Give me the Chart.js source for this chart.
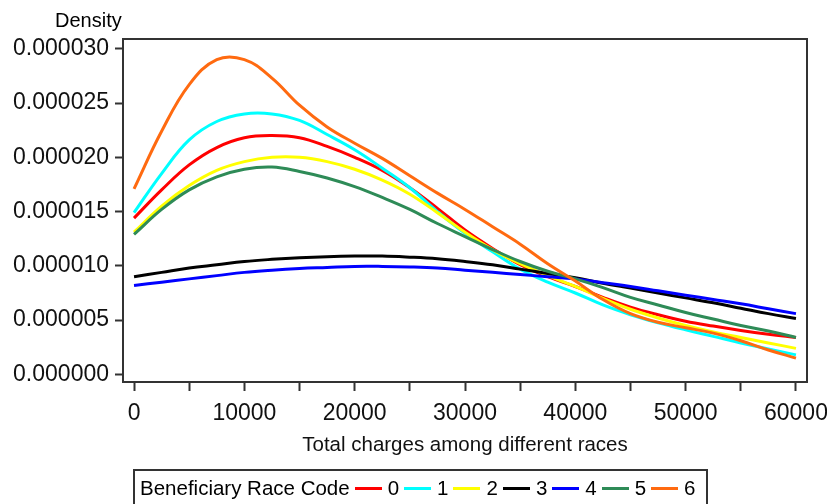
<!DOCTYPE html>
<html>
<head>
<meta charset="utf-8">
<script src="https://cdn.jsdelivr.net/npm/chart.js@4/dist/chart.umd.min.js"></script>
<style>
    body { margin: 0; background: #fff; }
    #wrap { position: relative; width: 827px; height: 504px; overflow: hidden;
            font-family: "Liberation Sans", Arial, sans-serif; color: #000; }
    #density { position: absolute; left: 55px; top: 10px; font-size: 20px; line-height: 20px; }
    #legend { position: absolute; left: 133px; top: 469px; width: 575px; height: 50px;
              border: 2px solid #333; box-sizing: border-box; padding: 5px 0 0 5px;
              font-size: 20.5px; line-height: 24px; white-space: nowrap; }
    #legend .swatch { display: inline-block; width: 27px; height: 3px; margin-left: 5px; vertical-align: 5px; }
    #legend .code { margin-left: 6px; }
</style>
</head>
<body>
<div id="wrap">
    <canvas id="density_chart" width="827" height="504"></canvas>
    <div id="density">Density</div>
    <div id="legend"></div>
</div>
<script>
// x positions (total charges) of the density estimates
const charges = [0, 2500, 5000, 7500, 10000, 12500, 15000, 17500, 20000, 22500, 25000, 27500,
    30000, 32500, 35000, 37500, 40000, 42500, 45000, 47500, 50000, 52500, 55000, 57500, 60000];

// density values, in units of 0.000001
const race0 = [14.4, 17.0, 19.3, 20.9, 21.8, 22.0, 21.8, 21.0, 20.0, 18.8, 17.2, 15.3,
    13.3, 11.6, 10.1, 9.0, 8.1, 7.1, 6.2, 5.5, 4.9, 4.45, 4.05, 3.7, 3.4];
const race1 = [14.9, 18.5, 21.6, 23.3, 24.0, 24.0, 23.4, 22.1, 20.7, 19.0, 17.2, 15.0,
    13.0, 11.3, 9.7, 8.5, 7.5, 6.4, 5.5, 4.75, 4.1, 3.5, 2.9, 2.35, 1.8];
const race2 = [13.1, 15.5, 17.4, 18.8, 19.6, 20.0, 20.0, 19.6, 18.9, 17.9, 16.6, 14.9,
    13.1, 11.5, 10.2, 9.1, 8.1, 7.0, 6.0, 5.2, 4.5, 3.9, 3.4, 2.9, 2.4];
const race3 = [9.0, 9.4, 9.8, 10.1, 10.4, 10.6, 10.75, 10.85, 10.9, 10.9, 10.8, 10.65,
    10.4, 10.1, 9.7, 9.3, 8.9, 8.4, 7.95, 7.5, 7.05, 6.6, 6.1, 5.6, 5.15];
const race4 = [8.2, 8.5, 8.8, 9.1, 9.4, 9.6, 9.75, 9.85, 9.95, 9.95, 9.9, 9.8,
    9.6, 9.4, 9.2, 9.0, 8.8, 8.45, 8.1, 7.7, 7.3, 6.9, 6.5, 6.05, 5.6];
const race5 = [12.9, 15.2, 17.0, 18.2, 18.9, 19.1, 18.7, 18.1, 17.3, 16.3, 15.2, 13.9,
    12.7, 11.5, 10.4, 9.5, 8.8, 8.0, 7.1, 6.4, 5.7, 5.1, 4.5, 4.0, 3.4];
const race6 = [17.1, 22.4, 26.7, 29.0, 29.0, 27.3, 24.8, 22.8, 21.3, 19.9, 18.3, 16.7,
    15.2, 13.6, 12.0, 10.2, 8.6, 6.9, 5.6, 4.8, 4.3, 3.8, 3.1, 2.25, 1.5];

const raceCodes = ['0', '1', '2', '3', '4', '5', '6'];
const raceValues = [race0, race1, race2, race3, race4, race5, race6];
const raceColors = ['#FF0000', '#00FFFF', '#FFFF00', '#000000', '#0000FF', '#2E8B57', '#FF6A10'];

// tick marks (labels only every 10000 on x)
const xTicks = [0, 5000, 10000, 15000, 20000, 25000, 30000, 35000, 40000, 45000, 50000, 55000, 60000];
const yTicks = [0, 5, 10, 15, 20, 25, 30];

// legend in a box under the chart
var legend = document.getElementById('legend');
legend.appendChild(document.createTextNode('Beneficiary Race Code'));
raceCodes.forEach(function (code, i) {
    var sw = document.createElement('span');
    sw.className = 'swatch';
    sw.style.background = raceColors[i];
    legend.appendChild(sw);
    var lb = document.createElement('span');
    lb.className = 'code';
    lb.textContent = code;
    legend.appendChild(lb);
});

// frame around the plot area
const frame = {
    id: 'frame',
    afterDatasetsDraw(chart) {
        const a = chart.chartArea, c = chart.ctx;
        c.save();
        c.strokeStyle = '#333';
        c.lineWidth = 2;
        c.strokeRect(a.left, a.top, a.right - a.left, a.bottom - a.top);
        c.restore();
    }
};

const tickFont = { family: '"Liberation Sans", Arial, sans-serif', size: 23 };

var ctx = document.getElementById('density_chart').getContext('2d');
new Chart(ctx, {
    type: 'line',
    data: {
        datasets: raceValues.map(function (vals, i) {
            return {
                label: raceCodes[i],
                data: vals.map(function (v, j) { return { x: charges[j], y: v }; }),
                borderColor: raceColors[i],
                borderWidth: 3,
                pointRadius: 0,
                tension: 0.4,
                fill: false,
                order: -i
            };
        })
    },
    options: {
        responsive: false,
        animation: false,
        devicePixelRatio: 1,
        layout: { padding: { left: 0, top: 39, right: 20, bottom: 0 } },
        plugins: {
            legend: { display: false },
            tooltip: { enabled: false }
        },
        scales: {
            x: {
                type: 'linear',
                min: -1000,
                max: 61000,
                border: { display: true, color: '#333', width: 2 },
                grid: { drawOnChartArea: false, drawTicks: true, tickLength: 9, tickColor: '#333', tickWidth: 2 },
                afterBuildTicks: function (s) { s.ticks = xTicks.map(function (v) { return { value: v }; }); },
                ticks: {
                    autoSkip: false,
                    maxRotation: 0,
                    padding: 9,
                    color: '#111',
                    font: tickFont,
                    callback: function (v) { return v % 10000 === 0 ? String(v) : ''; }
                },
                title: {
                    display: true,
                    text: 'Total charges among different races',
                    color: '#111',
                    font: { family: '"Liberation Sans", Arial, sans-serif', size: 20.5 },
                    padding: { top: 0, bottom: 46 }
                },
                afterFit: function (s) { s.height = 122; s.paddingLeft = 0; s.paddingRight = 0; }
            },
            y: {
                min: -0.7,
                max: 30.9,
                border: { display: true, color: '#333', width: 2 },
                grid: { drawOnChartArea: false, drawTicks: true, tickLength: 8, tickColor: '#333', tickWidth: 2 },
                afterBuildTicks: function (s) { s.ticks = yTicks.map(function (v) { return { value: v }; }); },
                ticks: {
                    autoSkip: false,
                    padding: 6,
                    color: '#111',
                    font: tickFont,
                    callback: function (v) { return (v / 1000000).toFixed(6); }
                },
                afterFit: function (s) { s.width = 123; s.paddingTop = 0; s.paddingBottom = 0; }
            }
        }
    },
    plugins: [frame]
});
</script>
</body>
</html>
